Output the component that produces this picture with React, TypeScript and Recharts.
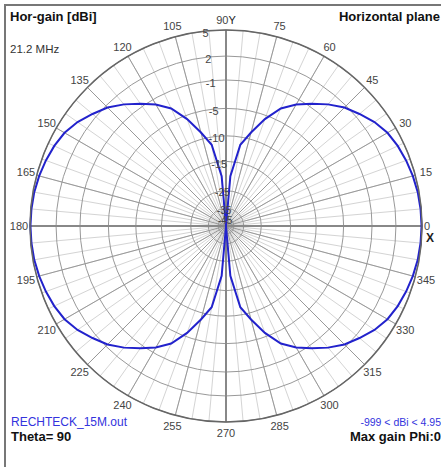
import React from "react";
import {
  RadarChart,
  Radar,
  PolarGrid,
  PolarAngleAxis,
  PolarRadiusAxis,
} from "recharts";

// ─── Data ─────────────────────────────────────────────────────────────────────

// azimuth angle (deg), 0 = X axis, counter-clockwise
const phi = [
  0, 5, 10, 15, 20, 25, 30, 35, 40, 45, 50, 55, 60, 65, 70, 75, 80, 85,
  90, 95, 100, 105, 110, 115, 120, 125, 130, 135, 140, 145, 150, 155, 160, 165, 170, 175,
  180, 185, 190, 195, 200, 205, 210, 215, 220, 225, 230, 235, 240, 245, 250, 255, 260, 265,
  270, 275, 280, 285, 290, 295, 300, 305, 310, 315, 320, 325, 330, 335, 340, 345, 350, 355,
];

// horizontal gain (dBi), -999 = deep null
const gainDbi = [
  4.95, 4.92, 4.85, 4.7, 4.5, 4.25, 3.9, 3.3, 2.5, 1.7, 0.6, -0.6, -1.8, -3.3, -5.7, -8.8, -11.5, -20,
  -999, -20, -11.5, -8.8, -5.7, -3.3, -1.8, -0.6, 0.6, 1.7, 2.5, 3.3, 3.9, 4.25, 4.5, 4.7, 4.85, 4.92,
  4.95, 4.92, 4.85, 4.7, 4.5, 4.25, 3.9, 3.3, 2.5, 1.7, 0.6, -0.6, -1.8, -3.3, -5.7, -8.8, -11.5, -20,
  -999, -20, -11.5, -8.8, -5.7, -3.3, -1.8, -0.6, 0.6, 1.7, 2.5, 3.3, 3.9, 4.25, 4.5, 4.7, 4.85, 4.92,
];

// ring labels (dBi)
const ringDb = [5, 2, -1, -5, -10, -15, -25, -35, -45];

// ─── Log scale (dB -> fraction of outer radius) ──────────────────────────────

const RING_FRAC = [1, 0.867, 0.745, 0.6, 0.46, 0.33, 0.18, 0.09, 0.04];

function toRadius(db: number): number {
  if (db >= ringDb[0]) return 1;
  for (let i = 1; i < ringDb.length; i++) {
    if (db >= ringDb[i]) {
      const t = (db - ringDb[i]) / (ringDb[i - 1] - ringDb[i]);
      return RING_FRAC[i] + t * (RING_FRAC[i - 1] - RING_FRAC[i]);
    }
  }
  const last = ringDb.length - 1;
  return Math.max(0, RING_FRAC[last] * (1 - (ringDb[last] - db) / 10));
}

// the chart runs 360 -> 0 (recharts' band offset is only right that way),
// so feed the rows as 0, 355, 350 ... 5 to keep phi counter-clockwise
const order = [0, ...phi.map((_, i) => i).slice(1).reverse()];
const data = order.map((i) => ({ phi: phi[i], r: toRadius(gainDbi[i]) }));
const ringTicks = ringDb.map(toRadius);
const majorPhi = phi.filter((p) => p % 15 === 0);
const axisPhi = phi.filter((p) => p % 90 === 0);

const FONT = "'Liberation Sans', Arial, sans-serif";
const BLUE = "#2222cc";

// ─── Ticks ────────────────────────────────────────────────────────────────────

function AngleTick(props: any) {
  const { x, y, payload } = props;
  const v = Number(payload.value);
  if (v % 15 !== 0) return null;
  const common = { fontFamily: FONT, fontSize: 11, fill: "#444" };
  if (v === 0) {
    return (
      <g>
        <text x={x - 6} y={y} textAnchor="middle" dominantBaseline="central" {...common}>
          0
        </text>
        <text x={x - 3} y={y + 12} textAnchor="middle" dominantBaseline="central"
          fontFamily={FONT} fontSize={12} fontWeight="bold" fill="#222">
          X
        </text>
      </g>
    );
  }
  if (v === 90) {
    return (
      <text x={x} y={y + 1} textAnchor="middle" dominantBaseline="central" {...common}>
        90<tspan fill="#222">Y</tspan>
      </text>
    );
  }
  return (
    <text x={x} y={y} textAnchor="middle" dominantBaseline="central" {...common}>
      {v}
    </text>
  );
}

function RadiusTick(props: any) {
  const { x, y, index } = props;
  return (
    <text x={x} y={y + 2} textAnchor="middle" dominantBaseline="central"
      fontFamily={FONT} fontSize={index > 5 ? 10 : 11} fill="#444">
      {ringDb[index]}
    </text>
  );
}

// ─── Component ────────────────────────────────────────────────────────────────

const label = (style: React.CSSProperties, text: string) => (
  <div style={{ position: "absolute", fontFamily: FONT, fontSize: 11, whiteSpace: "nowrap", lineHeight: "13px", ...style }}>
    {text}
  </div>
);

export default function App() {
  return (
    <div
      style={{
        position: "absolute",
        left: 0,
        top: 0,
        width: 441,
        height: 467,
        background: "#fff",
        overflow: "hidden",
      }}
    >
      <div
        style={{
          position: "absolute",
          left: 4,
          top: 4,
          width: 460,
          height: 480,
          borderTop: "2px solid #777",
          borderLeft: "2px solid #777",
        }}
      />
      <RadarChart
        width={441}
        height={467}
        data={data}
        cx={226}
        cy={226}
        outerRadius={196}
        startAngle={360}
        endAngle={0}
        margin={{ top: 0, right: 0, bottom: 0, left: 0 }}
        style={{ position: "absolute", left: 0, top: 0 }}
      >
        <PolarGrid gridType="circle" polarAngles={phi} polarRadius={[]} stroke="#d4d4d4" strokeWidth={1} />
        <PolarGrid gridType="circle" polarAngles={majorPhi} radialLines stroke="#999" strokeWidth={1} />
        <PolarGrid gridType="circle" polarAngles={axisPhi} polarRadius={[]} stroke="#888" strokeWidth={2} />
        <PolarAngleAxis
          dataKey="phi"
          axisLineType="circle"
          axisLine={{ stroke: "#666", strokeWidth: 1.5 }}
          tickLine={false}
          tickSize={11}
          tick={AngleTick}
        />
        <PolarRadiusAxis
          angle={96}
          domain={[0, 1]}
          type="number"
          ticks={ringTicks}
          axisLine={false}
          tickLine={false}
          tick={RadiusTick}
        />
        <Radar
          dataKey="r"
          stroke={BLUE}
          strokeWidth={2}
          fill="none"
          fillOpacity={0}
          dot={false}
          isAnimationActive={false}
        />
      </RadarChart>
      {label({ left: 10, top: 10, fontSize: 13, fontWeight: "bold", color: "#111" }, "Hor-gain [dBi]")}
      {label({ left: 10, top: 43, color: "#333", fontSize: 11.5 }, "21.2 MHz")}
      {label({ right: 1, top: 10, fontSize: 13, fontWeight: "bold", color: "#111" }, "Horizontal plane")}
      {label({ left: 11, top: 416, fontSize: 12, color: "#3333dd" }, "RECHTECK_15M.out")}
      {label({ left: 11, top: 430, fontSize: 13, fontWeight: "bold", color: "#111" }, "Theta= 90")}
      {label({ right: 0, top: 416, fontSize: 10.5, color: "#3333dd" }, "-999 < dBi < 4.95")}
      {label({ right: 0, top: 430, fontSize: 13, fontWeight: "bold", color: "#111" }, "Max gain Phi:0")}
    </div>
  );
}
